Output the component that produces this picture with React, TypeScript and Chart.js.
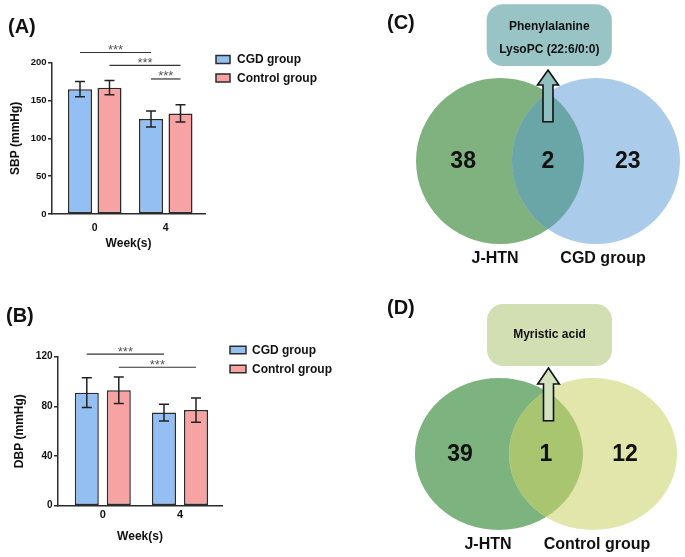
import React, { useEffect, useRef } from 'react';
import { Chart, registerables } from 'chart.js';

Chart.register(...registerables);

const FONT = '"Liberation Sans", Arial, Helvetica, sans-serif';

// ---------------- data ----------------
const weeks = [0, 4];
const weekLabels = ['0', '4'];
const groupNames = ['CGD group', 'Control group'];

const sbpCGD = [165, 125.5];
const sbpCGDErr = [10, 10.5];
const sbpControl = [167, 133];
const sbpControlErr = [9.5, 11.5];
const sbpTicks = [0, 50, 100, 150, 200];

const dbpCGD = [91, 75];
const dbpCGDErr = [12, 6.7];
const dbpControl = [93, 77];
const dbpControlErr = [10.7, 9.7];
const dbpTicks = [0, 40, 80, 120];

// significance brackets: [fromDataset, fromIndex, toDataset, toIndex, level]
const sbpSig = [
  [0, 0, 0, 1, 213.5],
  [1, 0, 1, 1, 196.5],
  [0, 1, 1, 1, 178.5],
];
const dbpSig = [
  [0, 0, 0, 1, 122],
  [1, 0, 1, 1, 111.5],
];
const sigLabel = '***';

const vennCSets = ['J-HTN', 'CGD group'];
const vennCCounts = [38, 2, 23];
const vennCShared = ['Phenylalanine', 'LysoPC (22:6/0:0)'];

const vennDSets = ['J-HTN', 'Control group'];
const vennDCounts = [39, 1, 12];
const vennDShared = ['Myristic acid'];

// ---------------- styles / layout ----------------
const barColors = ['#94bff3', '#f7a3a3'];
const INK = '#2b2b2b';

const panelA = {
  label: '(A)',
  canvas: { left: 0, top: 0, w: 360, h: 290 },
  means: [sbpCGD, sbpControl],
  errs: [sbpCGDErr, sbpControlErr],
  ticks: sbpTicks,
  sig: sbpSig,
  yTitle: 'SBP (mmHg)',
  yW: 52,
  xH: 36.5,
  pad: { left: 0, top: 62.7, right: 155, bottom: 39.5 },
  xMin: -2.408,
  xMax: 6.211,
  cp: 0.831,
  bp: 0.814,
  yTitlePad: 8.8,
  xTickPad: 7.5,
  yTickFont: 9.5,
  xTickFont: 10.5,
  legend: { x: 216, y: 59.5, gap: 18.5, bw: 14, bh: 8, tx: 237 },
  labelPos: { x: 8, y: 27 },
};

const panelB = {
  label: '(B)',
  canvas: { left: 0, top: 290, w: 360, h: 267 },
  means: [dbpCGD, dbpControl],
  errs: [dbpCGDErr, dbpControlErr],
  ticks: dbpTicks,
  sig: dbpSig,
  yTitle: 'DBP (mmHg)',
  yW: 58,
  xH: 38.2,
  pad: { left: 0, top: 66.7, right: 138, bottom: 13.1 },
  xMin: -2.321,
  xMax: 6.176,
  cp: 0.829,
  bp: 0.75,
  yTitlePad: 12.8,
  xTickPad: 3,
  yTickFont: 10,
  xTickFont: 11,
  legend: { x: 230, y: 60, gap: 19, bw: 16, bh: 7.5, tx: 252 },
  labelPos: { x: 6, y: 26.5 },
};

const vennC = {
  label: '(C)',
  sets: vennCSets,
  counts: vennCCounts,
  shared: vennCShared,
  canvas: { left: 370, top: 0, w: 315, h: 280 },
  x: [-2.119, 1.631],
  y: [-1.434, 1.94],
  h: 0.571,
  colors: { left: '#7fb27f', right: '#aacbe9', both: '#6aa5a7', box: '#98c4c5', arrow: '#8fbfbf' },
  countX: [-1.01, 0, 0.95],
  labelX: [-0.63, 0.655],
  labelY: -1.18,
  box: { x: [-0.73, 0.76], y: [1.145, 1.89], r: 16 },
  textY: [1.614, 1.343],
  arrow: { x: 0, tip: 1.096, base: 0.916, bottom: 0.473, hw: 10.5, sw: 5 },
  labelPos: { x: 17, y: 23 },
};

const vennD = {
  label: '(D)',
  sets: vennDSets,
  counts: vennDCounts,
  shared: vennDShared,
  canvas: { left: 370, top: 280, w: 315, h: 277 },
  x: [-2.095, 1.655],
  y: [-1.355, 2.289],
  h: 0.56,
  colors: { left: '#7db37e', right: '#e3e6aa', both: '#a9c56f', box: '#d2dfb3', arrow: '#d3e2bf' },
  countX: [-1.024, 0, 0.94],
  labelX: [-0.69, 0.607],
  labelY: -1.197,
  box: { x: [-0.702, 0.786], y: [1.158, 1.974], r: 16 },
  textY: [1.566],
  arrow: { x: 0.03, tip: 1.132, base: 0.921, bottom: 0.438, hw: 10.8, sw: 5 },
  labelPos: { x: 17, y: 28 },
};

function panelLabel(ctx: any, text: string, pos: any) {
  ctx.save();
  ctx.font = `bold 20px ${FONT}`;
  ctx.fillStyle = '#111';
  ctx.textAlign = 'left';
  ctx.textBaseline = 'middle';
  ctx.fillText(text, pos.x, pos.y);
  ctx.restore();
}

function barConfig(p: any) {
  const plugin = {
    id: 'barExtras',
    afterDatasetsDraw(chart: any) {
      const ctx = chart.ctx;
      const ys = chart.scales.y;
      ctx.save();
      ctx.strokeStyle = '#222';
      ctx.lineWidth = 1.5;
      const cap = 5;
      p.means.forEach((m: number[], d: number) => {
        const meta = chart.getDatasetMeta(d);
        m.forEach((v: number, i: number) => {
          const x = meta.data[i].x;
          const t = ys.getPixelForValue(v + p.errs[d][i]);
          const b = ys.getPixelForValue(v - p.errs[d][i]);
          ctx.beginPath();
          ctx.moveTo(x, t);
          ctx.lineTo(x, b);
          ctx.moveTo(x - cap, t);
          ctx.lineTo(x + cap, t);
          ctx.moveTo(x - cap, b);
          ctx.lineTo(x + cap, b);
          ctx.stroke();
        });
      });
      ctx.lineWidth = 1.2;
      ctx.strokeStyle = '#333';
      ctx.fillStyle = '#555';
      ctx.font = `13px ${FONT}`;
      ctx.textAlign = 'center';
      ctx.textBaseline = 'alphabetic';
      p.sig.forEach(([fd, fi, td, ti, lvl]: number[]) => {
        const x1 = chart.getDatasetMeta(fd).data[fi].x;
        const x2 = chart.getDatasetMeta(td).data[ti].x;
        const y = ys.getPixelForValue(lvl);
        ctx.beginPath();
        ctx.moveTo(x1, y);
        ctx.lineTo(x2, y);
        ctx.stroke();
        ctx.fillText(sigLabel, (x1 + x2) / 2, y + 1.5);
      });
      ctx.restore();
    },
    afterDraw(chart: any) {
      const ctx = chart.ctx;
      const L = p.legend;
      ctx.save();
      ctx.font = `bold 12px ${FONT}`;
      ctx.textAlign = 'left';
      ctx.textBaseline = 'middle';
      groupNames.forEach((g, d) => {
        const cy = L.y + d * L.gap;
        ctx.fillStyle = barColors[d];
        ctx.fillRect(L.x, cy - L.bh / 2, L.bw, L.bh);
        ctx.strokeStyle = INK;
        ctx.lineWidth = 1.5;
        ctx.strokeRect(L.x, cy - L.bh / 2, L.bw, L.bh);
        ctx.fillStyle = '#111';
        ctx.fillText(g, L.tx, cy + 0.5);
      });
      ctx.restore();
      panelLabel(ctx, p.label, p.labelPos);
    },
  };

  return {
    type: 'bar',
    data: {
      datasets: p.means.map((m: number[], d: number) => ({
        label: groupNames[d],
        data: weeks.map((w, i) => ({ x: w, y: m[i] })),
        backgroundColor: barColors[d],
        borderColor: INK,
        borderWidth: 1.5,
        borderSkipped: false,
        categoryPercentage: p.cp,
        barPercentage: p.bp,
      })),
    },
    options: {
      animation: false,
      responsive: false,
      maintainAspectRatio: false,
      layout: { padding: p.pad },
      scales: {
        x: {
          type: 'linear',
          offset: false,
          min: p.xMin,
          max: p.xMax,
          afterBuildTicks: (s: any) => {
            s.ticks = weeks.map((v) => ({ value: v }));
          },
          afterFit: (s: any) => {
            s.height = p.xH;
          },
          ticks: {
            callback: (_v: any, i: number) => weekLabels[i],
            font: { family: FONT, size: p.xTickFont, weight: 'bold' },
            color: '#111',
            padding: p.xTickPad,
            maxRotation: 0,
          },
          grid: { display: false, drawTicks: false, offset: false },
          border: { display: true, color: INK, width: 1.5 },
          title: {
            display: true,
            text: 'Week(s)',
            font: { family: FONT, size: 12, weight: 'bold' },
            color: '#111',
            padding: { top: 0, bottom: 0 },
          },
        },
        y: {
          type: 'linear',
          min: p.ticks[0],
          max: p.ticks[p.ticks.length - 1],
          afterBuildTicks: (s: any) => {
            s.ticks = p.ticks.map((v: number) => ({ value: v }));
          },
          afterFit: (s: any) => {
            s.width = p.yW;
          },
          ticks: {
            font: { family: FONT, size: p.yTickFont, weight: 'bold' },
            color: '#111',
            padding: 1.5,
          },
          grid: {
            display: true,
            drawOnChartArea: false,
            drawTicks: true,
            tickLength: 4,
            color: INK,
            lineWidth: 1.5,
          },
          border: { display: true, color: INK, width: 1.5 },
          title: {
            display: true,
            text: p.yTitle,
            font: { family: FONT, size: 12, weight: 'bold' },
            color: '#111',
            padding: { top: p.yTitlePad, bottom: 0 },
          },
        },
      },
      plugins: { legend: { display: false }, tooltip: { enabled: false } },
    },
    plugins: [plugin],
  };
}

function roundRectPath(ctx: any, x: number, y: number, w: number, h: number, r: number) {
  ctx.beginPath();
  ctx.moveTo(x + r, y);
  ctx.lineTo(x + w - r, y);
  ctx.arcTo(x + w, y, x + w, y + r, r);
  ctx.lineTo(x + w, y + h - r);
  ctx.arcTo(x + w, y + h, x + w - r, y + h, r);
  ctx.lineTo(x + r, y + h);
  ctx.arcTo(x, y + h, x, y + h - r, r);
  ctx.lineTo(x, y + r);
  ctx.arcTo(x, y, x + r, y, r);
  ctx.closePath();
}

function vennConfig(v: any) {
  const plugin = {
    id: 'venn',
    beforeDatasetsDraw(chart: any) {
      const ctx = chart.ctx;
      const xs = chart.scales.x;
      const ys = chart.scales.y;
      const X = (a: number) => xs.getPixelForValue(a);
      const Y = (a: number) => ys.getPixelForValue(a);
      const rx = X(1) - X(0);
      const ry = Y(0) - Y(1);
      const cl = X(-v.h);
      const cr = X(v.h);
      const cy = Y(0);
      const ell = (cx: number) => {
        ctx.beginPath();
        ctx.ellipse(cx, cy, rx, ry, 0, 0, Math.PI * 2);
      };
      ctx.save();
      ell(cl);
      ctx.fillStyle = v.colors.left;
      ctx.fill();
      ell(cr);
      ctx.fillStyle = v.colors.right;
      ctx.fill();
      ctx.save();
      ell(cl);
      ctx.clip();
      ell(cr);
      ctx.fillStyle = v.colors.both;
      ctx.fill();
      ctx.restore();

      // shared-items box
      const bx1 = X(v.box.x[0]);
      const bx2 = X(v.box.x[1]);
      const by1 = Y(v.box.y[1]);
      const by2 = Y(v.box.y[0]);
      roundRectPath(ctx, bx1, by1, bx2 - bx1, by2 - by1, v.box.r);
      ctx.fillStyle = v.colors.box;
      ctx.fill();
      ctx.fillStyle = '#111';
      ctx.font = `bold 12px ${FONT}`;
      ctx.textAlign = 'center';
      ctx.textBaseline = 'middle';
      v.shared.forEach((s: string, i: number) => {
        ctx.fillText(s, (bx1 + bx2) / 2, Y(v.textY[i]));
      });

      // arrow
      const a = v.arrow;
      const ax = X(a.x);
      const tip = Y(a.tip);
      const base = Y(a.base);
      const bot = Y(a.bottom);
      ctx.beginPath();
      ctx.moveTo(ax, tip);
      ctx.lineTo(ax + a.hw, base);
      ctx.lineTo(ax + a.sw, base);
      ctx.lineTo(ax + a.sw, bot);
      ctx.lineTo(ax - a.sw, bot);
      ctx.lineTo(ax - a.sw, base);
      ctx.lineTo(ax - a.hw, base);
      ctx.closePath();
      ctx.fillStyle = v.colors.arrow;
      ctx.fill();
      ctx.strokeStyle = '#111';
      ctx.lineWidth = 1.6;
      ctx.lineJoin = 'miter';
      ctx.stroke();

      // counts
      ctx.fillStyle = '#111';
      ctx.font = `bold 23px ${FONT}`;
      v.counts.forEach((c: number, i: number) => {
        ctx.fillText(String(c), X(v.countX[i]), cy + 1);
      });

      // set names
      ctx.font = `bold 16px ${FONT}`;
      v.sets.forEach((s: string, i: number) => {
        ctx.fillText(s, X(v.labelX[i]), Y(v.labelY));
      });
      ctx.restore();
      panelLabel(ctx, v.label, v.labelPos);
    },
  };
  return {
    type: 'scatter',
    data: {
      datasets: [
        {
          label: 'centres',
          data: [
            { x: -v.h, y: 0 },
            { x: v.h, y: 0 },
          ],
          pointRadius: 0,
        },
      ],
    },
    options: {
      animation: false,
      responsive: false,
      maintainAspectRatio: false,
      layout: { padding: 0 },
      scales: {
        x: { type: 'linear', display: false, offset: false, min: v.x[0], max: v.x[1] },
        y: { type: 'linear', display: false, offset: false, min: v.y[0], max: v.y[1] },
      },
      plugins: { legend: { display: false }, tooltip: { enabled: false } },
    },
    plugins: [plugin],
  };
}

const panels = [
  { key: 'A', cfg: () => barConfig(panelA), c: panelA.canvas },
  { key: 'B', cfg: () => barConfig(panelB), c: panelB.canvas },
  { key: 'C', cfg: () => vennConfig(vennC), c: vennC.canvas },
  { key: 'D', cfg: () => vennConfig(vennD), c: vennD.canvas },
];

export default function App() {
  const refs = useRef<(HTMLCanvasElement | null)[]>([]);
  useEffect(() => {
    const charts = panels.map((p, i) => new Chart(refs.current[i] as any, p.cfg() as any));
    return () => charts.forEach((c) => c.destroy());
  }, []);
  return (
    <div
      style={{
        position: 'fixed',
        left: 0,
        top: 0,
        width: 685,
        height: 557,
        background: '#fff',
        overflow: 'hidden',
      }}
    >
      {panels.map((p, i) => (
        <canvas
          key={p.key}
          ref={(el) => {
            refs.current[i] = el;
          }}
          width={p.c.w}
          height={p.c.h}
          style={{ position: 'absolute', left: p.c.left, top: p.c.top, width: p.c.w, height: p.c.h }}
        />
      ))}
    </div>
  );
}
